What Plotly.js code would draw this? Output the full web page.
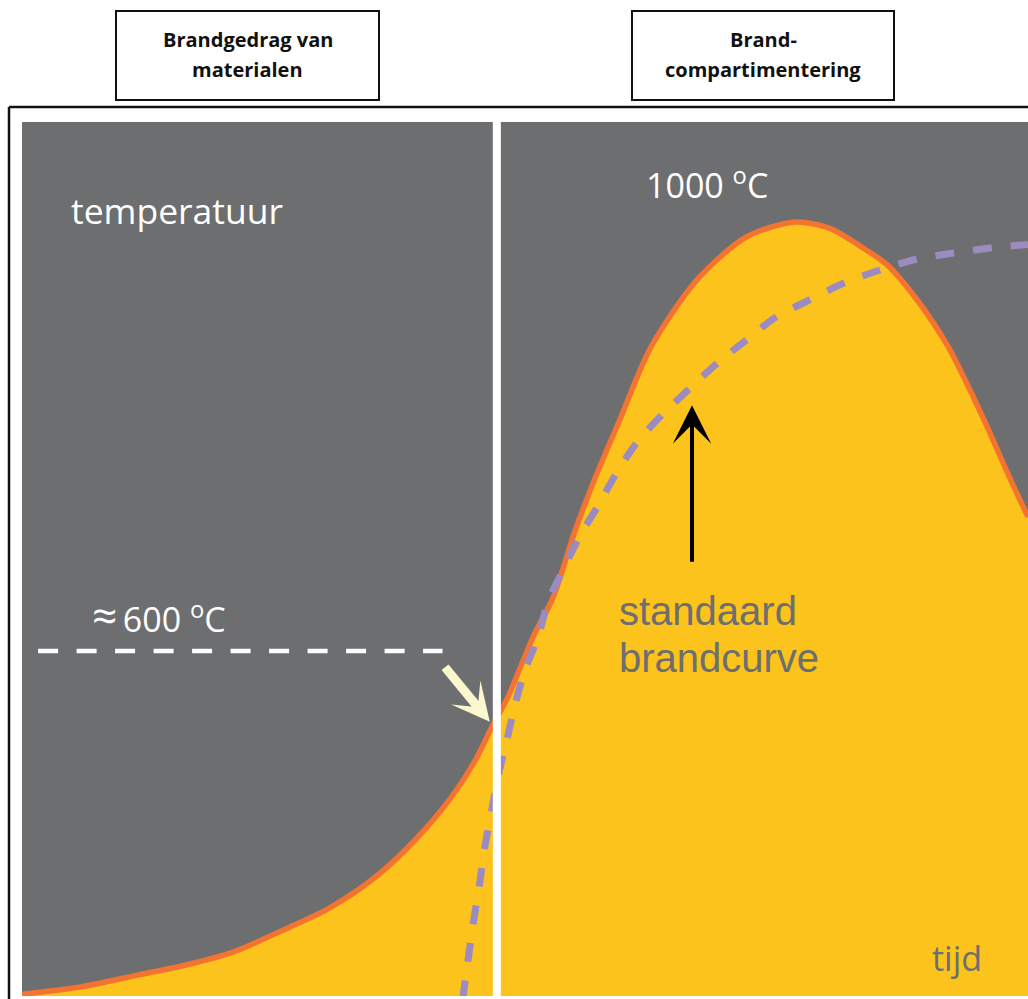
<!DOCTYPE html>
<html>
<head>
<meta charset="utf-8">
<script src="https://cdn.plot.ly/plotly-3.0.1.min.js"></script>
<style>html,body{margin:0;padding:0;background:#fff;}#chart{width:1028px;height:999px;}</style>
</head>
<body>
<div id="chart"></div>
<script>
// ---- data (schematic: time in arbitrary units 0..100, temperature in °C) ----
const fireTime = [0, 5.96, 11.6, 16.2, 20.9, 26.5, 30.5, 35.1, 39.1, 42.7, 45.0, 46.7, 48.3, 50.8, 52.8, 54.9, 57.0, 59.4, 62.5, 67.1, 72.0, 76.9, 80.3, 83.4, 86.0, 89.0, 92.1, 95.5, 98.3, 100];
const fireTemp = [280, 287, 298, 307, 319, 342, 360, 389, 424, 464, 497, 529, 557, 613, 650, 710, 762, 815, 883, 946, 986, 1000, 994, 977, 960, 927, 883, 818, 759, 725];
const stdTime = [43.8, 44.9, 45.5, 46.0, 46.7, 47.4, 48.2, 49.0, 50.0, 51.3, 52.3, 53.8, 55.5, 57.3, 59.1, 61.1, 63.6, 66.4, 69.2, 72.0, 74.9, 78.2, 81.7, 85.2, 88.8, 92.6, 96.4, 100];
const stdTemp = [275, 349, 384, 417, 452, 486, 517, 550, 582, 613, 646, 676, 708, 736, 766, 794, 820, 845, 869, 890, 911, 927, 943, 955, 965, 971, 976, 979];
const refTime = [1.6, 41.8];
const refTemp = [600, 600];
const flashoverPoint = {time: 46.5, temp: 534};
const stdArrowPoint = {time: 66.6, temp: 829};
const DEG = '<sup>o</sup>';
const labels = {
  yLabel: 'temperatuur', xLabel: 'tijd',
  peak: '1000 ' + DEG + 'C',
  flash: '<span style="font-size:44px">\u2248</span>\u2009600 ' + DEG + 'C',
  std: ['standaard', 'brandcurve'],
  box1: ['Brandgedrag van', 'materialen'],
  box2: ['Brand-', 'compartimentering']
};

// ---- layout helpers (pixel -> paper) ----
const W = 1028, H = 999, ML = 22, MR = 0, MT = 122, MB = 3;
const PW = W - ML - MR, PH = H - MT - MB;
const px = v => (v - ML) / PW;
const py = v => (H - MB - v) / PH;

const GREY = '#6D6E70', YELLOW = '#FBC31B', ORANGE = '#F37430', PURPLE = '#9C8BC0';

const traces = [
  {x: fireTime, y: fireTemp, type: 'scatter', mode: 'lines', fill: 'tozeroy', fillcolor: YELLOW,
   line: {color: ORANGE, width: 5.5, shape: 'spline', smoothing: 0.8}, hoverinfo: 'skip'},
  {x: stdTime, y: stdTemp, type: 'scatter', mode: 'lines',
   line: {color: PURPLE, width: 7, dash: '19px,19px', shape: 'spline', smoothing: 0.8}, hoverinfo: 'skip'},
  {x: refTime, y: refTemp, type: 'scatter', mode: 'lines',
   line: {color: '#FFFFFF', width: 4.5, dash: '20px,18.5px'}, hoverinfo: 'skip'}
];

const boxText = (lines, cx) => lines.map((t, i) => ({
  xref: 'paper', yref: 'paper', x: px(cx), y: py(i === 0 ? 40 : 70), xanchor: 'center', yanchor: 'middle',
  text: '<b>' + t + '</b>', showarrow: false, font: {family: 'Open Sans, sans-serif', size: 20, color: '#111'}
}));

const layout = {
  width: W, height: H,
  margin: {l: ML, r: MR, t: MT, b: MB, pad: 0},
  paper_bgcolor: '#FFFFFF', plot_bgcolor: GREY,
  showlegend: false,
  xaxis: {range: [0, 100], visible: false, fixedrange: true},
  yaxis: {range: [278.3, 1093.2], visible: false, fixedrange: true},
  shapes: [
    // panel divider
    {type: 'rect', xref: 'x', yref: 'paper', x0: 46.8, x1: 47.6, y0: 0, y1: 1, fillcolor: '#FFFFFF', line: {width: 0}, layer: 'above'},
    // outer frame
    {type: 'line', xref: 'paper', yref: 'paper', x0: px(9), x1: px(9), y0: py(1005), y1: py(107), line: {color: '#111', width: 2.5}},
    {type: 'line', xref: 'paper', yref: 'paper', x0: px(9), x1: px(1035), y0: py(107), y1: py(107), line: {color: '#111', width: 2.5}},
    // header boxes
    {type: 'rect', xref: 'paper', yref: 'paper', x0: px(116), x1: px(379), y0: py(100), y1: py(11), line: {color: '#111', width: 2}, fillcolor: '#FFFFFF'},
    {type: 'rect', xref: 'paper', yref: 'paper', x0: px(632), x1: px(894), y0: py(100), y1: py(11), line: {color: '#111', width: 2}, fillcolor: '#FFFFFF'}
  ],
  annotations: [
    ...boxText(labels.box1, 247.5),
    ...boxText(labels.box2, 763),
    {xref: 'paper', yref: 'paper', x: px(69), y: py(210), xanchor: 'left', yanchor: 'middle', showarrow: false,
     text: labels.yLabel, font: {family: 'Open Sans, sans-serif', size: 35.5, color: '#FFFFFF'}},
    {xref: 'paper', yref: 'paper', x: px(644), y: py(183), xanchor: 'left', yanchor: 'middle', showarrow: false,
     text: labels.peak, font: {family: 'Open Sans, sans-serif', size: 34, color: '#FFFFFF'}},
    {xref: 'paper', yref: 'paper', x: px(90), y: py(615), xanchor: 'left', yanchor: 'middle', showarrow: false,
     text: labels.flash, font: {family: 'Open Sans, sans-serif', size: 34, color: '#FFFFFF'}},
    {xref: 'paper', yref: 'paper', x: px(617), y: py(611), xanchor: 'left', yanchor: 'middle', showarrow: false,
     text: labels.std[0], font: {family: 'Liberation Sans, Arial, sans-serif', size: 40, color: GREY}},
    {xref: 'paper', yref: 'paper', x: px(617), y: py(658), xanchor: 'left', yanchor: 'middle', showarrow: false,
     text: labels.std[1], font: {family: 'Liberation Sans, Arial, sans-serif', size: 40, color: GREY}},
    {xref: 'paper', yref: 'paper', x: px(930), y: py(958), xanchor: 'left', yanchor: 'middle', showarrow: false,
     text: labels.xLabel, font: {family: 'Open Sans, sans-serif', size: 34, color: GREY}},
    // arrows
    {xref: 'x', yref: 'y', x: flashoverPoint.time, y: flashoverPoint.temp, text: '', showarrow: true,
     ax: -46, ay: -56, arrowhead: 3, arrowsize: 0.7, arrowwidth: 9, arrowcolor: '#FBF7CF', standoff: 0},
    {xref: 'x', yref: 'y', x: stdArrowPoint.time, y: stdArrowPoint.temp, text: '', showarrow: true,
     ax: 0, ay: 158, arrowhead: 3, arrowsize: 1.6, arrowwidth: 4, arrowcolor: '#000000', standoff: 0}
  ]
};

Plotly.newPlot('chart', traces, layout, {displayModeBar: false, staticPlot: true});
</script>
</body>
</html>
